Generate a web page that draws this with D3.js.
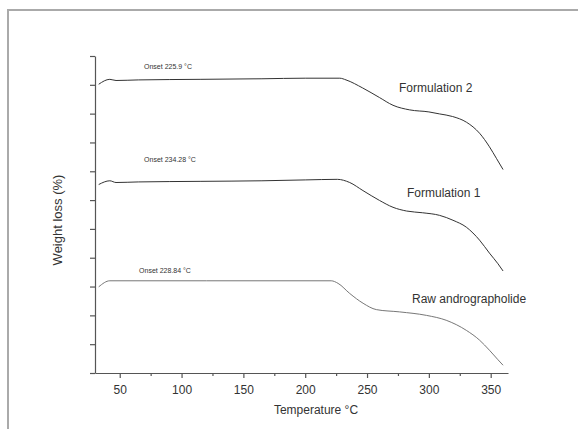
<!DOCTYPE html>
<html>
<head>
<meta charset="utf-8">
<script src="https://cdn.jsdelivr.net/npm/d3@7"></script>
<style>
  body { margin: 0; background: #fff; }
  text { font-family: Arial, "Liberation Sans", sans-serif; fill: #333; }
</style>
</head>
<body>
<svg id="chart" width="578" height="429"></svg>
<script>
// temperatures (°C) and curve values (arbitrary offset units on the y axis)
var f2Temp = [33, 42, 47, 65, 115, 165, 200, 228, 233, 246.5, 260, 271, 284.5, 300, 308.7, 319.2, 330.5, 341, 349, 354.6, 360];
var f2Loss = [100.2, 101.9, 101.5, 101.7, 101.9, 102.1, 102.3, 102.3, 101.7, 98.9, 95.6, 92.9, 91.3, 90.6, 89.9, 89.0, 87.0, 83.2, 78.5, 74.5, 70.6];

var f1Temp = [33, 42, 47, 65, 115, 165, 200, 226, 236, 246.7, 260, 271, 282, 295, 308.7, 319.5, 330.3, 341, 349, 355.9, 360];
var f1Loss = [65.4, 66.7, 66.1, 66.3, 66.5, 66.7, 67.0, 67.2, 66.1, 63.3, 59.9, 57.5, 56.2, 55.6, 54.7, 53.0, 50.6, 46.1, 41.6, 37.9, 35.4];

var rawTemp = [33, 42, 120, 221, 226.6, 236, 246.8, 257.5, 276.4, 298, 314, 330.3, 341, 349, 355.9, 360];
var rawLoss = [29.9, 32.0, 32.0, 32.0, 31.1, 27.6, 24.2, 22.0, 21.2, 20.0, 18.3, 14.8, 11.4, 7.9, 4.6, 2.7];

var seriesNames = ["Formulation 2", "Formulation 1", "Raw andrographolide"];
var onsetLabels = ["Onset 225.9 °C", "Onset 234.28 °C", "Onset 228.84 °C"];
var xMajor = [50, 100, 150, 200, 250, 300, 350];
var xMinor = [75, 125, 175, 225, 275, 325];
var yTicks = [0, 10, 20, 30, 40, 50, 60, 70, 80, 90, 100, 110];

var svg = d3.select("#chart");

// outer frame
svg.append("rect")
    .attr("x", 8).attr("y", 10)
    .attr("width", 640).attr("height", 500)
    .attr("fill", "none")
    .attr("stroke", "#aaa")
    .attr("stroke-width", 2);

var plotLeft = 95, plotRight = 508, plotTop = 56, plotBottom = 373;

var x = d3.scaleLinear().domain([30, 364]).range([plotLeft, plotRight]);
var y = d3.scaleLinear().domain([0, 110]).range([plotBottom, plotTop]);

var xAxis = svg.append("g")
    .attr("transform", "translate(0," + plotBottom + ")")
    .call(d3.axisBottom(x).tickValues(xMajor).tickSize(5).tickSizeOuter(0).tickPadding(7));
xAxis.selectAll("text").style("font-size", "12px").attr("fill", "#333");

svg.append("g")
    .attr("transform", "translate(0," + plotBottom + ")")
    .call(d3.axisBottom(x).tickValues(xMinor).tickSize(3).tickFormat(""))
    .select(".domain").remove();

svg.append("g")
    .attr("transform", "translate(" + plotLeft + ",0)")
    .call(d3.axisLeft(y).tickValues(yTicks).tickSize(5).tickSizeOuter(0).tickFormat(""));

svg.selectAll(".domain, .tick line").attr("stroke", "#555").attr("stroke-width", 1.2);

// axis titles
svg.append("text")
    .attr("x", 316).attr("y", 414)
    .attr("text-anchor", "middle")
    .style("font-size", "12px")
    .text("Temperature °C");

svg.append("text")
    .attr("transform", "translate(62,220) rotate(-90)")
    .attr("text-anchor", "middle")
    .style("font-size", "13px")
    .text("Weight loss (%)");

// curves
var series = [
  { name: seriesNames[0], temp: f2Temp, loss: f2Loss, color: "#333", onset: onsetLabels[0] },
  { name: seriesNames[1], temp: f1Temp, loss: f1Loss, color: "#333", onset: onsetLabels[1] },
  { name: seriesNames[2], temp: rawTemp, loss: rawLoss, color: "#777", onset: onsetLabels[2] }
];

var line = d3.line()
    .x(function(d) { return x(d[0]); })
    .y(function(d) { return y(d[1]); })
    .curve(d3.curveMonotoneX);

series.forEach(function(s) {
  var pts = s.temp.map(function(t, i) { return [t, s.loss[i]]; });
  svg.append("path")
      .datum(pts)
      .attr("d", line)
      .attr("fill", "none")
      .attr("stroke", s.color)
      .attr("stroke-width", 1);
});

// series labels placed near the curve tails
var labelPos = [[399, 92], [407, 197], [412, 303]];
series.forEach(function(s, i) {
  svg.append("text")
      .attr("x", labelPos[i][0]).attr("y", labelPos[i][1])
      .style("font-size", "12px")
      .text(s.name);
});

var onsetPos = [[168, 69], [170, 162], [165, 273]];
series.forEach(function(s, i) {
  svg.append("text")
      .attr("x", onsetPos[i][0]).attr("y", onsetPos[i][1])
      .attr("text-anchor", "middle")
      .style("font-size", "7px")
      .text(s.onset);
});
</script>
</body>
</html>
